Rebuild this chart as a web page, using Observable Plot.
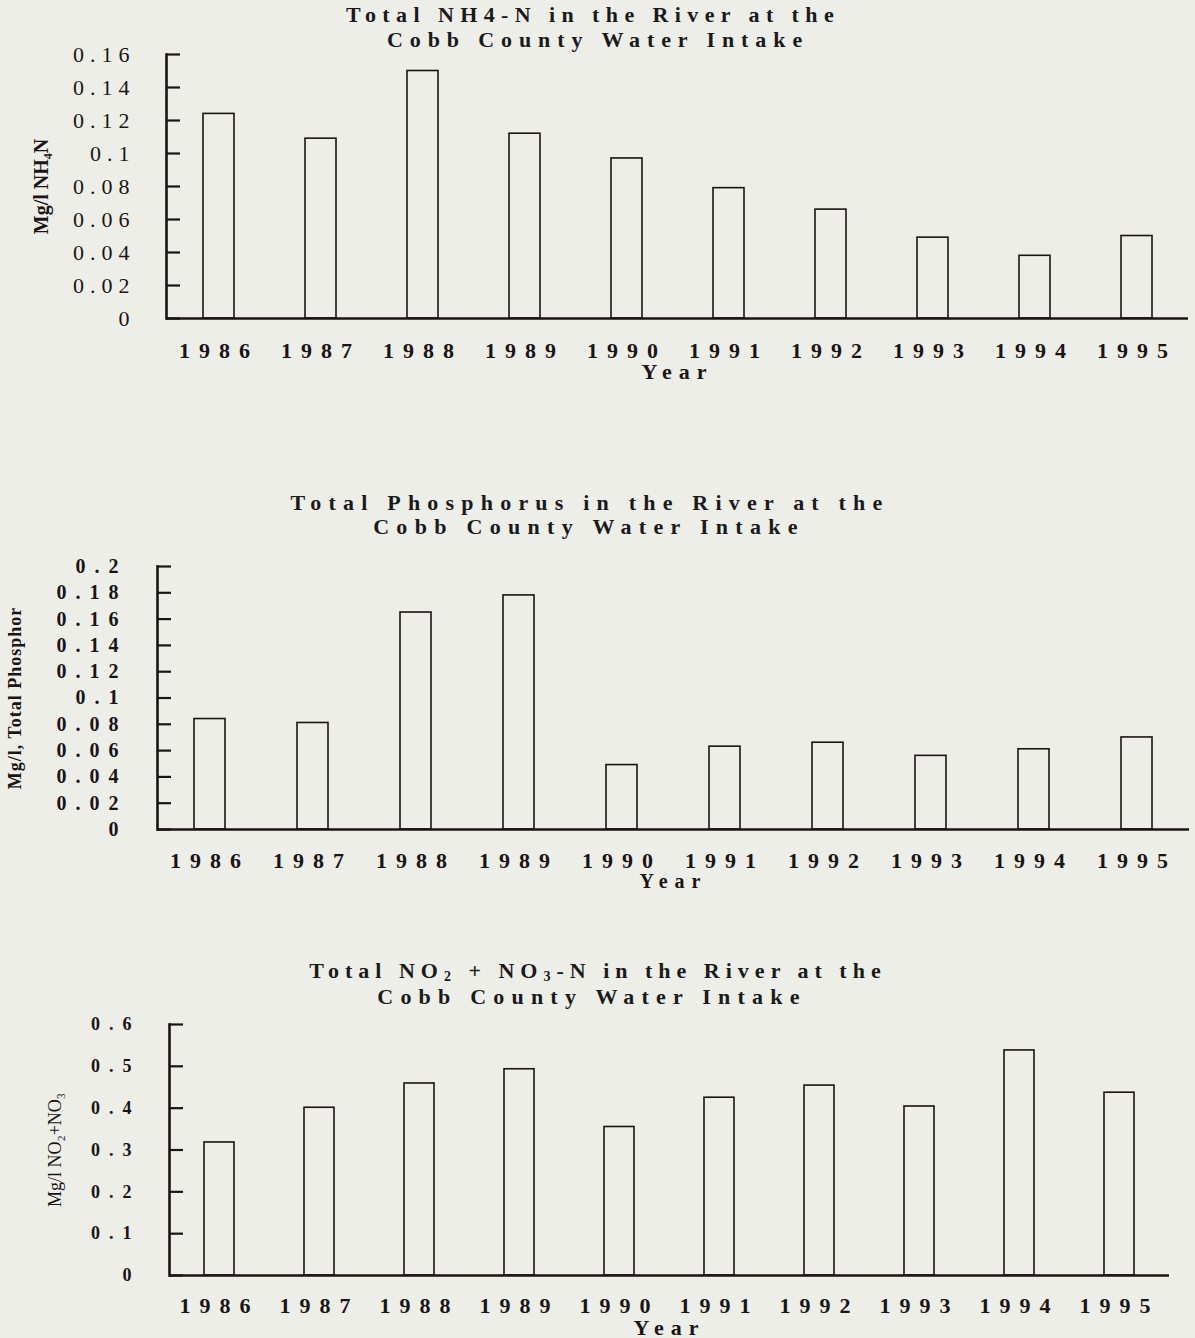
<!DOCTYPE html>
<html>
<head>
<meta charset="utf-8">
<script src="https://cdn.jsdelivr.net/npm/d3@7"></script>
<script src="https://cdn.jsdelivr.net/npm/@observablehq/plot@0.6"></script>
<style>
  html, body { margin: 0; padding: 0; background: #eeeee9; }
  #page { position: relative; width: 1195px; height: 1338px; overflow: hidden; background: #eeeee9; }
  .title { position: absolute; transform: translateX(-50%); white-space: nowrap;
           font-family: "Liberation Serif", "Times New Roman", serif; font-weight: bold;
           font-size: 22px; line-height: 22px; letter-spacing: 6.5px; color: #1a1a1a; }
  .title sub { font-size: 14px; line-height: 0; vertical-align: -3px; }
  .chart { position: absolute; left: 0; }
  .chart svg { overflow: visible; }
  svg g[aria-label="x-axis tick label"] { font-family: "Liberation Serif", serif; font-weight: bold; font-size: 22px; letter-spacing: 9px; }
  svg g[aria-label="x-axis label"] { font-family: "Liberation Serif", serif; font-weight: bold; font-size: 22px; letter-spacing: 7px; }
  .c2 g[aria-label="x-axis label"] { font-size: 20px; }
  .c1 g[aria-label="y-axis tick label"] { font-family: "Liberation Serif", serif; font-weight: normal; font-size: 22px; letter-spacing: 6px; }
  .c2 g[aria-label="y-axis tick label"] { font-family: "Liberation Serif", serif; font-weight: bold; font-size: 20px; letter-spacing: 9px; }
  .c3 g[aria-label="y-axis tick label"] { font-family: "Liberation Serif", serif; font-weight: bold; font-size: 18px; letter-spacing: 9px; }
  .c1 g[aria-label="y-axis label"] { font-family: "Liberation Serif", serif; font-weight: bold; font-size: 20px; }
  .c2 g[aria-label="y-axis label"] { font-family: "Liberation Serif", serif; font-weight: bold; font-size: 18px; letter-spacing: 1px; }
  .c3 g[aria-label="y-axis label"] { font-family: "Liberation Serif", serif; font-weight: normal; font-size: 18px; }
</style>
</head>
<body>
<div id="page">
  <div class="title" style="left:593px; top:4px; letter-spacing:6.4px;">Total NH4-N in the River at the</div>
  <div class="title" style="left:598px; top:29px; letter-spacing:6.9px;">Cobb County Water Intake</div>
  <div class="title" style="left:590px; top:492px; letter-spacing:7.2px;">Total Phosphorus in the River at the</div>
  <div class="title" style="left:589px; top:516px; letter-spacing:7.3px;">Cobb County Water Intake</div>
  <div class="title" style="left:598px; top:960px; letter-spacing:6px;">Total NO<sub>2</sub> + NO<sub>3</sub>-N in the River at the</div>
  <div class="title" style="left:592px; top:986px; letter-spacing:7.2px;">Cobb County Water Intake</div>
  <div id="chart1" class="chart" style="top:40px;"></div>
  <div id="chart2" class="chart" style="top:540px;"></div>
  <div id="chart3" class="chart" style="top:1000px;"></div>
</div>
<script>
// ---- data ----
const years = ["1986", "1987", "1988", "1989", "1990", "1991", "1992", "1993", "1994", "1995"];
const nh4Values = [0.124, 0.109, 0.150, 0.112, 0.097, 0.079, 0.066, 0.049, 0.038, 0.050];
const phosValues = [0.084, 0.081, 0.165, 0.178, 0.049, 0.063, 0.066, 0.056, 0.061, 0.070];
const no3Values = [0.318, 0.401, 0.459, 0.493, 0.355, 0.425, 0.454, 0.404, 0.538, 0.437];
const nh4Ticks = [0, 0.02, 0.04, 0.06, 0.08, 0.1, 0.12, 0.14, 0.16];
const phosTicks = [0, 0.02, 0.04, 0.06, 0.08, 0.1, 0.12, 0.14, 0.16, 0.18, 0.2];
const no3Ticks = [0, 0.1, 0.2, 0.3, 0.4, 0.5, 0.6];
const nh4Label = "Mg/l NH\u2084N";
const phosLabel = "Mg/l, Total Phosphor";
const no3Label = "Mg/l NO\u2082+NO\u2083";
const xLabel = "Year";

const BG = "#eeeee9";
const INK = "#1a1414";
const W = 1195;

function chart(o) {
  const data = years.map((year, i) => ({year, value: o.values[i]}));
  const plotW = W - o.ml - o.mr;
  return Plot.plot({
    width: W,
    height: o.height,
    marginTop: o.mt, marginBottom: o.mb, marginLeft: o.ml, marginRight: o.mr,
    className: o.cls,
    style: {background: "transparent", color: INK, overflow: "visible"},
    x: {type: "band", domain: years, paddingInner: 0.7, paddingOuter: 0.35},
    y: {domain: [0, o.ticks[o.ticks.length - 1]]},
    marks: [
      Plot.barY(data, {x: "year", y: "value", fill: BG, stroke: INK, strokeWidth: 1.6}),
      Plot.ruleY(o.ticks, {stroke: INK, strokeWidth: 2.2, insetRight: plotW - 14}),
      Plot.frame({anchor: "left", stroke: INK, strokeWidth: 2.6}),
      Plot.ruleY([0], {stroke: INK, strokeWidth: 2.6}),
      Plot.axisY({ticks: o.ticks, tickSize: 0, tickPadding: o.yPad, tickFormat: d => String(d),
                  label: o.ylabel, labelArrow: "none", labelAnchor: "center", labelOffset: o.yLabOff}),
      Plot.axisX({tickSize: 0, tickPadding: o.xPad, label: xLabel, labelArrow: "none", labelAnchor: "center", labelOffset: o.xLabOff})
    ]
  });
}

document.getElementById("chart1").append(chart({
  values: nh4Values, ticks: nh4Ticks, cls: "c1", height: 350, mt: 14, mb: 72, ml: 166, mr: 7,
  yPad: 31, ylabel: nh4Label, yLabOff: 133, xPad: 24, xLabOff: 60
}));
document.getElementById("chart2").append(chart({
  values: phosValues, ticks: phosTicks, cls: "c2", height: 360, mt: 26, mb: 71, ml: 157, mr: 6,
  yPad: 30, ylabel: phosLabel, yLabOff: 149, xPad: 23, xLabOff: 58
}));
document.getElementById("chart3").append(chart({
  values: no3Values, ticks: no3Ticks, cls: "c3", height: 338, mt: 24, mb: 63, ml: 169, mr: 26,
  yPad: 29, ylabel: no3Label, yLabOff: 121, xPad: 22, xLabOff: 59
}));
</script>
</body>
</html>
